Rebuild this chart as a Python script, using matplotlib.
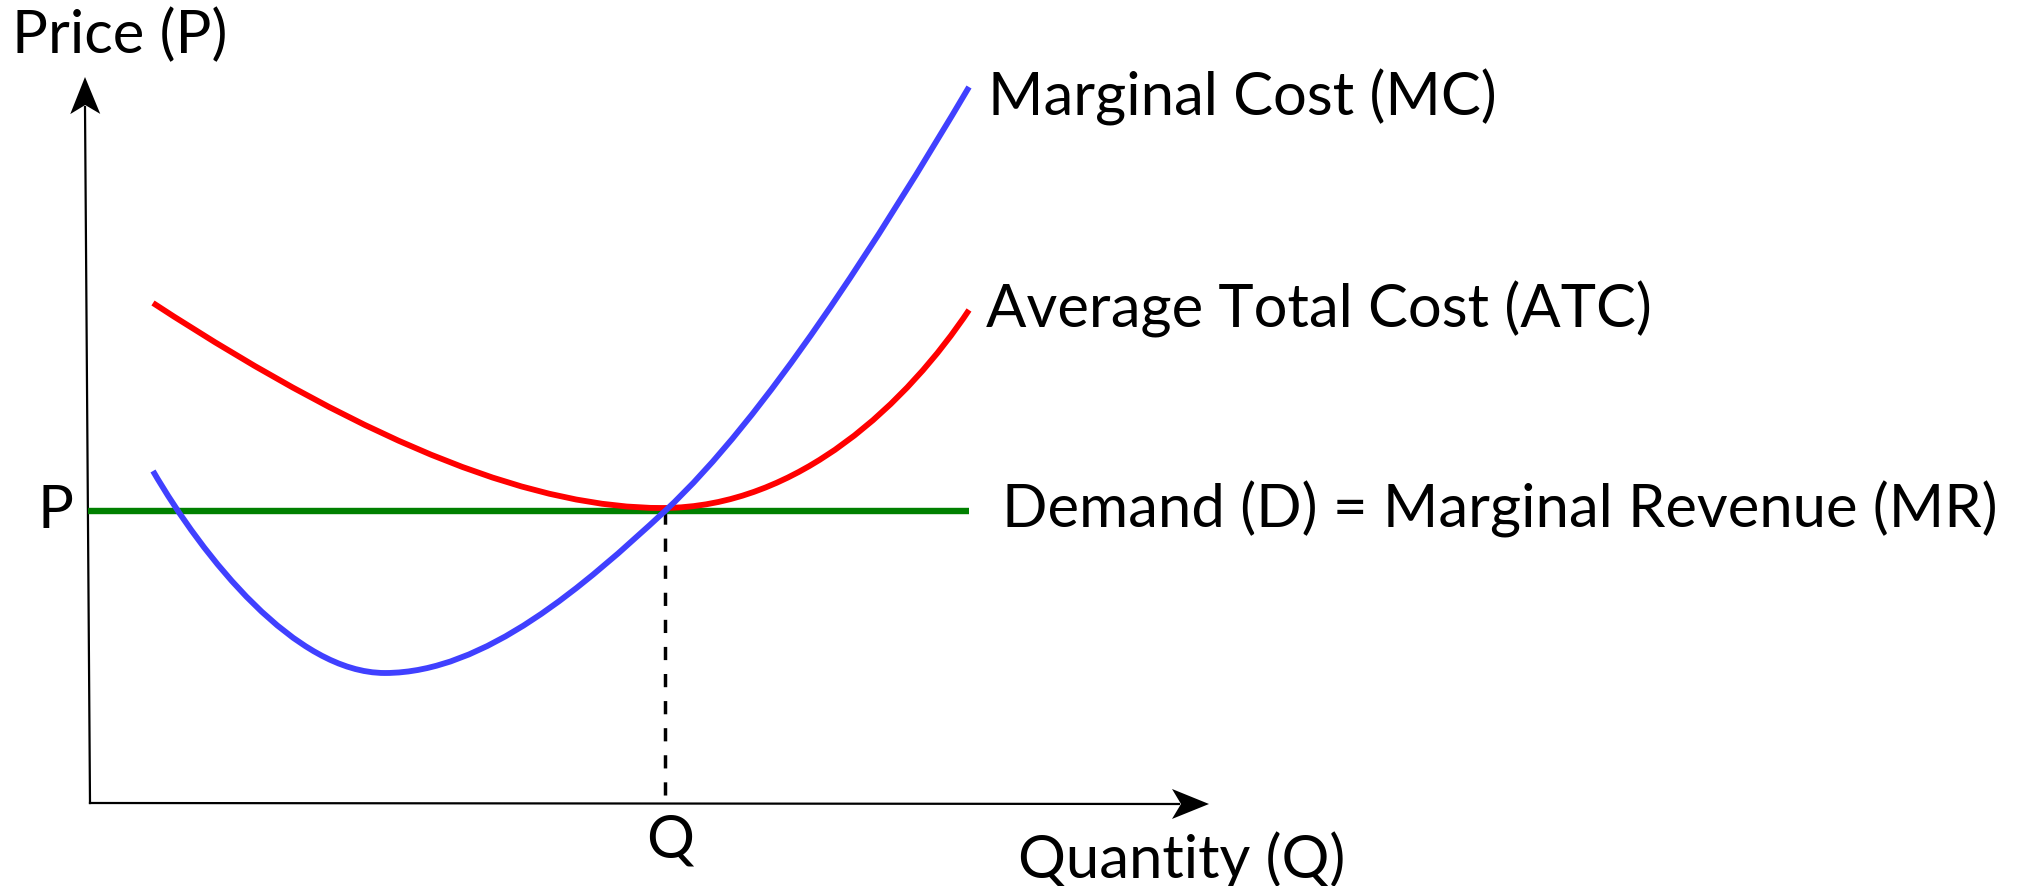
import numpy as np
import matplotlib.pyplot as plt
from matplotlib.path import Path
from matplotlib.patches import PathPatch, Polygon

plt.rcParams['font.family'] = ['Lato', 'DejaVu Sans']

# picture is laid out in pixel units (y grows downward)
W, H = 2023, 887

# axes: origin and arrow tips
origin = (90, 804)
y_tip = (85, 78)
x_tip = (1209, 805)

# market price P and quantity Q
price_level = 512
q_level = 665
demand_x = [88, 969]

# marginal cost: cubic bezier control points (start, c1, c2, end, c1, c2, end ...)
mc_x = [153, 203, 295, 385, 485, 585, 665, 765, 879, 969]
mc_y = [472, 558, 674, 674, 674, 586, 512, 419, 240, 88]

# average total cost
atc_x = [153, 380, 540, 662, 800, 909, 969]
atc_y = [304, 452, 509, 509, 509, 401, 311]

labels = {
    'price': 'Price (P)',
    'qty': 'Quantity (Q)',
    'mc': 'Marginal Cost (MC)',
    'atc': 'Average Total Cost (ATC)',
    'dmr': 'Demand (D) = Marginal Revenue (MR)',
}

fig = plt.figure(figsize=(W / 100, H / 100), dpi=100)
ax = fig.add_axes([0, 0, 1, 1])
ax.set_xlim(0, W)
ax.set_ylim(H, 0)
ax.axis('off')


def bezier(xs, ys):
    codes = [Path.MOVETO] + [Path.CURVE4] * (len(xs) - 1)
    return Path(np.column_stack([xs, ys]), codes)


def arrow_head(tip, tail, length=37, width=30, notch=9):
    d = np.array(tip, float) - np.array(tail, float)
    d /= np.hypot(*d)
    n = np.array([-d[1], d[0]])
    t = np.array(tip, float)
    back = t - d * length
    pts = [t, back + n * width / 2, t - d * (length - notch), back - n * width / 2]
    ax.add_patch(Polygon(pts, closed=True, color='black', lw=0, zorder=5))


# axes
ax.plot([origin[0], y_tip[0]], [origin[1], y_tip[1] + 30], color='black', lw=1.6)
ax.plot([origin[0], x_tip[0] - 30], [origin[1], x_tip[1]], color='black', lw=1.6)
arrow_head(y_tip, origin)
arrow_head(x_tip, origin)

# curves
ax.add_patch(PathPatch(bezier(atc_x, atc_y), fill=False, edgecolor='#ff0000', lw=4.2,
                       capstyle='butt', zorder=3))
ax.plot(demand_x, [price_level, price_level], color='#008000', lw=4.6, zorder=2,
        solid_capstyle='butt')
ax.add_patch(PathPatch(bezier(mc_x, mc_y), fill=False, edgecolor='#4040ff', lw=4.2,
                       capstyle='butt', zorder=4))

# dashed drop line to Q
ax.plot([q_level, q_level], [price_level, origin[1]], color='black', lw=2.5,
        linestyle=(0, (3.8, 4)), zorder=1)

fs = 43
ax.text(12, 53, labels['price'], fontsize=fs, va='baseline', ha='left')
ax.text(38, 528, 'P', fontsize=fs, va='baseline', ha='left')
ax.text(646, 858, 'Q', fontsize=fs, va='baseline', ha='left')
ax.text(1018, 878, labels['qty'], fontsize=fs, va='baseline', ha='left')
ax.text(988, 115, labels['mc'], fontsize=fs, va='baseline', ha='left')
ax.text(986, 328, labels['atc'], fontsize=fs, va='baseline', ha='left')
ax.text(1002, 528, labels['dmr'], fontsize=fs, va='baseline', ha='left')

fig.savefig('out.png', dpi=100)
